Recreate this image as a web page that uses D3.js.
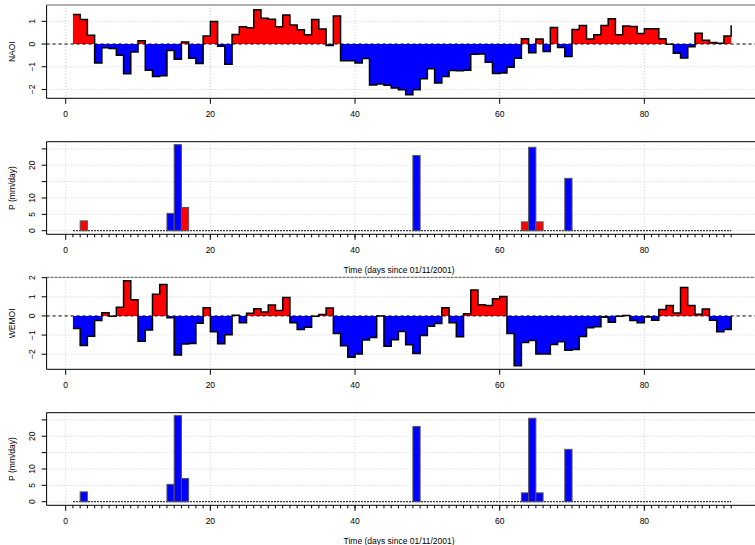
<!DOCTYPE html>
<html>
<head>
<meta charset="utf-8">
<script src="https://cdn.jsdelivr.net/npm/d3@7"></script>
<style>
  body { margin: 0; background: #fff; }
  svg { display: block; }
  text { font-family: "Liberation Sans", Arial, Helvetica, sans-serif; font-size: 8.5px; fill: #000; }
</style>
</head>
<body>
<script>
// daily indices and precipitation, days 1..92 since 01/11/2001

var days = d3.range(1, 93);

var naoi = [
   1.30,  1.08,  0.39, -0.84, -0.16, -0.20, -0.49, -1.31, -0.35,  0.15,
  -1.15, -1.43, -1.40, -0.28, -0.67,  0.09, -0.63, -0.86,  0.35,  0.99,
  -0.10, -0.89,  0.42,  0.76,  0.72,  1.51,  1.14,  1.09,  0.76,  1.28,
   0.84,  0.63,  0.41,  1.08,  0.66, -0.06,  1.24, -0.74, -0.74, -0.84,
  -0.64, -1.80, -1.76, -1.82, -1.94, -2.01, -2.23, -2.01, -1.53, -1.09,
  -1.72, -1.43, -1.16, -1.18, -1.15, -0.45, -0.44, -0.80, -1.30, -1.27,
  -1.02, -0.63,  0.23, -0.38,  0.22, -0.33,  0.73, -0.15, -0.55,  0.64,
   0.82,  0.22,  0.41,  0.82,  1.11,  0.41,  0.79,  0.77,  0.47,  0.67,
   0.67,  0.23, -0.01, -0.41, -0.61, -0.12,  0.48,  0.17,  0.07,  0.03,
   0.35,  0.83
];

var wemoi = [
  -0.66, -1.54, -1.06, -0.24,  0.17, -0.02,  0.45,  1.84,  0.85, -1.32,
  -0.73,  1.14,  1.64, -0.09, -2.04, -1.47, -1.44, -0.38,  0.43, -0.83,
  -1.45, -0.99,  0.03, -0.35,  0.14,  0.38,  0.21,  0.57,  0.28,  0.97,
  -0.36, -0.71, -0.59, -0.02,  0.07,  0.42, -0.92, -1.56, -2.16, -1.99,
  -1.26, -1.13,  0.00, -1.58, -1.25, -0.81, -1.51, -1.96, -1.02, -0.54,
  -0.40,  0.43, -0.35, -1.09,  0.12,  1.35,  0.59,  0.55,  0.90,  1.02,
  -0.92, -2.61, -1.39, -1.28, -1.99, -1.99, -1.49, -1.35, -1.80, -1.75,
  -1.07, -0.62, -0.57, -0.07, -0.33, -0.02,  0.02, -0.24, -0.36, -0.05,
  -0.23,  0.33,  0.55,  0.16,  1.49,  0.54,  0.09,  0.36, -0.23, -0.83,
  -0.71,  0.00
];

var precip = [
  0, 3.0, 0, 0, 0, 0, 0, 0, 0, 0,
  0, 0, 0, 5.3, 26.3, 7.1, 0, 0, 0, 0,
  0, 0, 0, 0, 0, 0, 0, 0, 0, 0,
  0, 0, 0, 0, 0, 0, 0, 0, 0, 0,
  0, 0, 0, 0, 0, 0, 0, 23.0, 0, 0,
  0, 0, 0, 0, 0, 0, 0, 0, 0, 0,
  0, 0, 2.7, 25.5, 2.7, 0, 0, 0, 16.0, 0,
  0, 0, 0, 0, 0, 0, 0, 0, 0, 0,
  0, 0, 0, 0, 0, 0, 0, 0, 0, 0,
  0, 0
];

var xTicks = [0, 20, 40, 60, 80];
var indexTicks1 = [-2, -1, 0, 1];
var indexTicks3 = [-2, -1, 0, 1, 2];
var precipTicks = [0, 5, 10, 15, 20, 25];
var precipLabels = [0, 5, 10, 20];   // R drops the overlapping ones
var xTitle = "Time (days since 01/11/2001)";

var width = 755, height = 545;

var svg = d3.select("body").append("svg")
  .attr("width", width)
  .attr("height", height);

// shared time axis (R's 4% padding around 1..92)
var x = d3.scaleLinear().domain([-2.64, 95.64]).range([46.6, 757.5]);

var panels = [
  { top: 5,     bottom: 98.3,  ydom: [-2.39, 1.72], kind: "index", vals: naoi,  ticks: indexTicks1, labels: indexTicks1, title: "NAOI", topStyle: "#666" },
  { top: 141.7, bottom: 234.3, ydom: [-1.1, 27.2],  kind: "precip", vals: precip, sign: naoi, ticks: precipTicks, labels: precipLabels, title: "P (mm/day)", xlab: true, topStyle: "#000" },
  { top: 277.3, bottom: 369.3, ydom: [-2.79, 2.02], kind: "index", vals: wemoi, ticks: indexTicks3, labels: indexTicks3, title: "WEMOI", topStyle: "dash" },
  { top: 412.7, bottom: 505.3, ydom: [-1.1, 27.2],  kind: "precip", vals: precip, sign: wemoi, ticks: precipTicks, labels: precipLabels, title: "P (mm/day)", xlab: true, topStyle: "#000" }
];

function col(v) { return v > 0 ? "#ff0000" : "#0000ff"; }

panels.forEach(function(p) {
  var y = d3.scaleLinear().domain(p.ydom).range([p.bottom, p.top]);
  var g = svg.append("g");
  var left = x.range()[0], right = x.range()[1];

  // dotted grid
  g.selectAll(".gx").data(xTicks).enter().append("line")
    .attr("x1", function(d) { return x(d); }).attr("x2", function(d) { return x(d); })
    .attr("y1", p.top).attr("y2", p.bottom)
    .attr("stroke", "#cfcfcf").attr("stroke-dasharray", "1,2");
  g.selectAll(".gy").data(p.ticks).enter().append("line")
    .attr("x1", left).attr("x2", right)
    .attr("y1", function(d) { return y(d); }).attr("y2", function(d) { return y(d); })
    .attr("stroke", "#cfcfcf").attr("stroke-dasharray", "1,2");

  var bars = days.slice(0, 91);  // last day has no width

  if (p.kind === "index") {
    // positive part red, negative part blue, as stepped areas
    var up = d3.area()
      .x(function(d) { return x(d); })
      .y0(y(0))
      .y1(function(d) { return y(Math.max(0, p.vals[d - 1])); })
      .curve(d3.curveStepAfter);
    var down = d3.area()
      .x(function(d) { return x(d); })
      .y0(y(0))
      .y1(function(d) { return y(Math.min(0, p.vals[d - 1])); })
      .curve(d3.curveStepAfter);

    g.append("path").attr("d", up(days)).attr("fill", "#ff0000");
    g.append("path").attr("d", down(days)).attr("fill", "#0000ff");

    var step = d3.line()
      .x(function(d) { return x(d); })
      .y(function(d) { return y(p.vals[d - 1]); })
      .curve(d3.curveStepAfter);

    g.append("path").attr("d", step(days))
      .attr("fill", "none").attr("stroke", "#000").attr("stroke-width", 1.5);

    g.append("line")
      .attr("x1", left).attr("x2", right)
      .attr("y1", y(0)).attr("y2", y(0))
      .attr("stroke", "#000").attr("stroke-dasharray", "3,3");
  } else {
    // baseline of zero-rain days
    g.append("line")
      .attr("x1", x(1)).attr("x2", x(92))
      .attr("y1", y(0)).attr("y2", y(0))
      .attr("stroke", "#333").attr("stroke-width", 1.2).attr("stroke-dasharray", "2,1");

    g.selectAll(".bar").data(bars.filter(function(d) { return p.vals[d - 1] > 0; })).enter().append("rect")
      .attr("x", function(d) { return x(d); })
      .attr("width", function(d) { return x(d + 1) - x(d); })
      .attr("y", function(d) { return y(p.vals[d - 1]); })
      .attr("height", function(d) { return y(0) - y(p.vals[d - 1]); })
      .attr("fill", function(d) { return col(p.sign[d - 1]); })
      .attr("stroke", "#555").attr("stroke-width", 1);

    // a small tick for every day
    g.selectAll(".mt").data(days).enter().append("line")
      .attr("x1", function(d) { return x(d); }).attr("x2", function(d) { return x(d); })
      .attr("y1", p.bottom).attr("y2", p.bottom + 3)
      .attr("stroke", "#000").attr("stroke-width", 1);
  }

  // box (panel 3 has a dashed top)
  g.append("line").attr("x1", left).attr("x2", left).attr("y1", p.top).attr("y2", p.bottom).attr("stroke", "#000");
  g.append("line").attr("x1", left).attr("x2", right).attr("y1", p.bottom).attr("y2", p.bottom).attr("stroke", "#000");
  var topLine = g.append("line").attr("x1", left).attr("x2", right).attr("y1", p.top).attr("y2", p.top);
  if (p.topStyle === "dash") topLine.attr("stroke", "#555").attr("stroke-dasharray", "3,1");
  else topLine.attr("stroke", p.topStyle);

  // x axis ticks and labels
  g.selectAll(".xt").data(xTicks).enter().append("line")
    .attr("x1", function(d) { return x(d); }).attr("x2", function(d) { return x(d); })
    .attr("y1", p.bottom).attr("y2", p.bottom + 5.5)
    .attr("stroke", "#000");
  g.selectAll(".xl").data(xTicks).enter().append("text")
    .attr("x", function(d) { return x(d); })
    .attr("y", p.bottom + 18.6)
    .attr("text-anchor", "middle")
    .text(function(d) { return d; });

  if (p.xlab) {
    g.append("text")
      .attr("x", (left + right) / 2 - 3)
      .attr("y", p.bottom + 38.6)
      .attr("text-anchor", "middle")
      .text(xTitle);
  }

  // y axis ticks and rotated labels
  g.selectAll(".yt").data(p.ticks).enter().append("line")
    .attr("x1", left - 5).attr("x2", left)
    .attr("y1", function(d) { return y(d); }).attr("y2", function(d) { return y(d); })
    .attr("stroke", "#000");
  g.selectAll(".yl").data(p.labels).enter().append("text")
    .attr("transform", function(d) { return "translate(34.6," + y(d) + ") rotate(-90)"; })
    .attr("text-anchor", "middle")
    .text(function(d) { return d < 0 ? "\u2212" + Math.abs(d) : d; });

  g.append("text")
    .attr("transform", "translate(15.2," + (p.top + p.bottom) / 2 + ") rotate(-90)")
    .attr("text-anchor", "middle")
    .text(p.title);
});
</script>
</body>
</html>
